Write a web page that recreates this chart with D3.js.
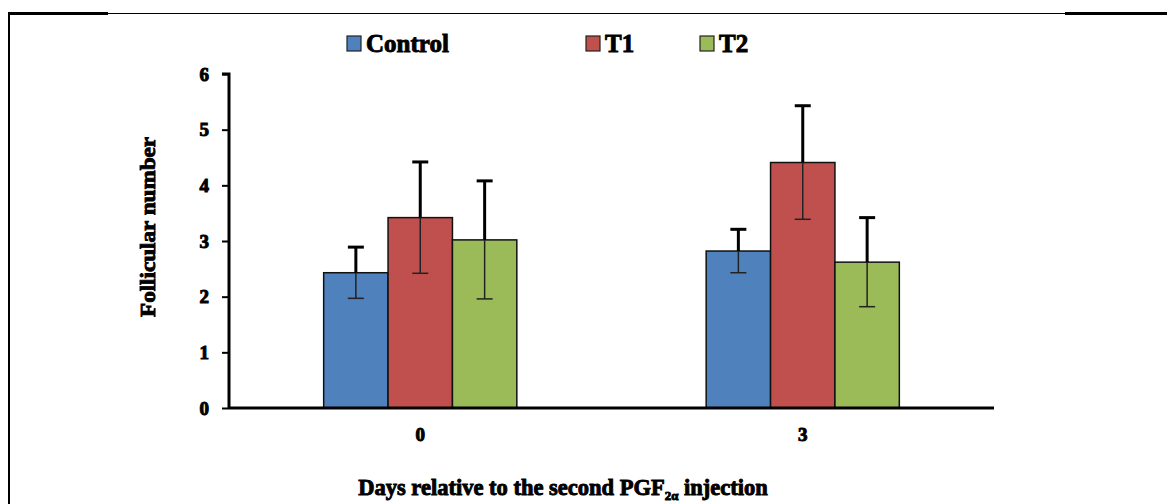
<!DOCTYPE html>
<html>
<head>
<meta charset="utf-8">
<script src="https://cdn.jsdelivr.net/npm/d3@7"></script>
<style>
  body { margin: 0; background: #fff; }
  text { font-family: "Liberation Serif", "Times New Roman", serif; font-weight: bold; fill: #000; }
</style>
</head>
<body>
<script>
// chart data
var days = ["0", "3"];
var series = ["Control", "T1", "T2"];
var colors = ["#4F81BD", "#C0504D", "#9BBB59"];
var controlVals = [2.43, 2.82];
var t1Vals = [3.42, 4.41];
var t2Vals = [3.02, 2.62];
var controlErr = [0.46, 0.39];
var t1Err = [1.0, 1.02];
var t2Err = [1.06, 0.8];
var yTicks = [0, 1, 2, 3, 4, 5, 6];

var vals = [controlVals, t1Vals, t2Vals];
var errs = [controlErr, t1Err, t2Err];

var width = 1167, height = 504;

var svg = d3.select("body").append("svg")
            .attr("width", width)
            .attr("height", height);

// frame lines
svg.append("line").attr("x1", 8).attr("x2", width).attr("y1", 13.5).attr("y2", 13.5)
   .attr("stroke", "#000").attr("stroke-width", 1);
svg.append("line").attr("x1", 8).attr("x2", 108).attr("y1", 13.5).attr("y2", 13.5)
   .attr("stroke", "#000").attr("stroke-width", 3);
svg.append("line").attr("x1", 1065).attr("x2", width).attr("y1", 13.5).attr("y2", 13.5)
   .attr("stroke", "#000").attr("stroke-width", 3);
svg.append("line").attr("x1", 9).attr("x2", 9).attr("y1", 12).attr("y2", height)
   .attr("stroke", "#000").attr("stroke-width", 2);

var y = d3.scaleLinear().domain([0, 6]).range([408, 74]);
var x0 = d3.scaleBand().domain(days).range([229, 994]);
var groupW = x0.bandwidth() * 0.505;
var x1 = d3.scaleBand().domain(series).range([0, groupW]);

var rows = [];
days.forEach(function(d, i) {
  series.forEach(function(s, j) {
    rows.push({day: d, s: s, v: vals[j][i], e: errs[j][i], c: colors[j]});
  });
});

function bx(d) { return x0(d.day) + (x0.bandwidth() - groupW) / 2 + x1(d.s); }

// bars
svg.append("g").selectAll("rect").data(rows).enter().append("rect")
   .attr("x", bx)
   .attr("y", function(d) { return y(d.v); })
   .attr("width", x1.bandwidth())
   .attr("height", function(d) { return y(0) - y(d.v); })
   .attr("fill", function(d) { return d.c; })
   .attr("stroke", "#111")
   .attr("stroke-width", 1.5);

// error bars
var eb = svg.append("g").selectAll("g").data(rows).enter().append("g");
eb.append("line")
  .attr("x1", function(d) { return bx(d) + x1.bandwidth() / 2; })
  .attr("x2", function(d) { return bx(d) + x1.bandwidth() / 2; })
  .attr("y1", function(d) { return y(d.v); })
  .attr("y2", function(d) { return y(d.v + d.e); })
  .attr("stroke", "#000").attr("stroke-width", 3);
eb.append("line")
  .attr("x1", function(d) { return bx(d) + x1.bandwidth() / 2; })
  .attr("x2", function(d) { return bx(d) + x1.bandwidth() / 2; })
  .attr("y1", function(d) { return y(d.v); })
  .attr("y2", function(d) { return y(d.v - d.e); })
  .attr("stroke", "#222").attr("stroke-width", 1.5);
eb.append("line")
  .attr("x1", function(d) { return bx(d) + x1.bandwidth() / 2 - 8; })
  .attr("x2", function(d) { return bx(d) + x1.bandwidth() / 2 + 8; })
  .attr("y1", function(d) { return y(d.v + d.e); })
  .attr("y2", function(d) { return y(d.v + d.e); })
  .attr("stroke", "#000").attr("stroke-width", 3);
eb.append("line")
  .attr("x1", function(d) { return bx(d) + x1.bandwidth() / 2 - 8; })
  .attr("x2", function(d) { return bx(d) + x1.bandwidth() / 2 + 8; })
  .attr("y1", function(d) { return y(d.v - d.e); })
  .attr("y2", function(d) { return y(d.v - d.e); })
  .attr("stroke", "#222").attr("stroke-width", 1.5);

// axes
var yAxis = d3.axisLeft(y).tickValues(yTicks).tickSize(7).tickPadding(13).tickFormat(d3.format("d"));
var gy = svg.append("g").attr("transform", "translate(229,0)").call(yAxis);
gy.select(".domain").attr("stroke-width", 3).attr("d", "M-7,74H0V408");
gy.selectAll(".tick line").attr("stroke-width", 2);
gy.selectAll(".tick text").style("font-size", "19px")
  .attr("stroke", "#000").attr("stroke-width", 1);

var xAxis = d3.axisBottom(x0).tickSize(0).tickPadding(20);
var gx = svg.append("g").attr("transform", "translate(0,408)").call(xAxis);
gx.select(".domain").attr("stroke-width", 3).attr("d", "M229,0H994");
gx.selectAll(".tick text").style("font-size", "19px")
  .attr("stroke", "#000").attr("stroke-width", 1);

// axis titles
svg.append("text")
   .attr("transform", "translate(155,227) rotate(-90)")
   .attr("text-anchor", "middle")
   .style("font-size", "22px")
   .attr("textLength", 180).attr("lengthAdjust", "spacingAndGlyphs")
   .attr("stroke", "#000").attr("stroke-width", 0.9)
   .text("Follicular number");

var xt = svg.append("text")
   .attr("x", 563).attr("y", 495)
   .attr("text-anchor", "middle")
   .style("font-size", "22.5px")
   .attr("stroke", "#000").attr("stroke-width", 0.9);
xt.append("tspan").text("Days relative to the second PGF");
xt.append("tspan").style("font-size", "13px").attr("dy", 5).text("2α");
xt.append("tspan").attr("dy", -5).text(" injection");

// legend
var legX = [347, 586, 700];
var lg = svg.append("g").selectAll("g").data(series).enter().append("g")
   .attr("transform", function(d, i) { return "translate(" + legX[i] + ",36)"; });
lg.append("rect").attr("width", 14).attr("height", 15)
  .attr("fill", function(d, i) { return colors[i]; })
  .attr("stroke", "#222").attr("stroke-width", 1.2);
lg.append("text").attr("x", 19).attr("y", 16)
  .style("font-size", "25px")
  .attr("stroke", "#000").attr("stroke-width", 0.9)
  .text(function(d) { return d; });
</script>
</body>
</html>
